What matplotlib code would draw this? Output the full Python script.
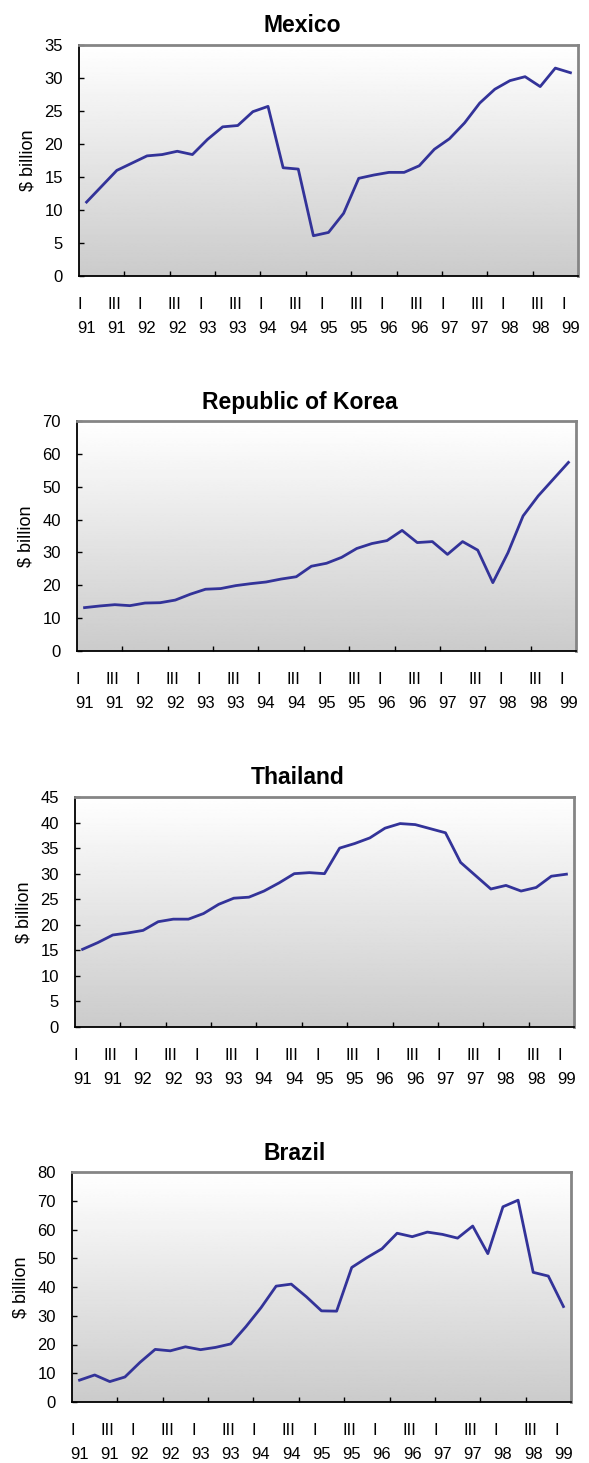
import matplotlib
matplotlib.use("Agg")
import matplotlib.pyplot as plt
import numpy as np

plt.rcParams["font.family"] = ["Liberation Sans", "DejaVu Sans"]

# quarterly data, 91 Q1 .. 99 Q1
quarters = [f"{q} {y}" for y in range(91, 99) for q in ("I", "II", "III", "IV")] + ["I 99"]

mexico = [11.2, 13.6, 16.0, 17.1, 18.2, 18.4, 18.9, 18.4, 20.7, 22.6, 22.8,
          24.9, 25.7, 16.4, 16.2, 6.1, 6.6, 9.5, 14.8, 15.3, 15.7, 15.7,
          16.7, 19.2, 20.8, 23.2, 26.2, 28.3, 29.6, 30.2, 28.7, 31.5, 30.8]
korea = [13.2, 13.7, 14.1, 13.8, 14.6, 14.7, 15.5, 17.3, 18.8, 19.0, 19.9,
         20.5, 21.0, 21.9, 22.6, 25.8, 26.7, 28.5, 31.2, 32.7, 33.6, 36.7,
         33.0, 33.3, 29.4, 33.3, 30.7, 20.8, 29.9, 41.1, 47.2, 52.3, 57.4]
thailand = [15.2, 16.5, 18.0, 18.4, 18.9, 20.6, 21.1, 21.1, 22.2, 24.0, 25.2,
            25.4, 26.6, 28.2, 30.0, 30.2, 30.0, 35.0, 35.9, 37.0, 38.9, 39.8,
            39.6, 38.8, 38.0, 32.2, 29.6, 27.0, 27.7, 26.6, 27.3, 29.5, 29.9]
brazil = [7.6, 9.4, 7.1, 8.7, 13.8, 18.3, 17.8, 19.2, 18.2, 19.0, 20.2,
          26.2, 32.8, 40.3, 41.0, 36.6, 31.7, 31.6, 46.8, 50.2, 53.3, 58.7,
          57.5, 59.1, 58.3, 57.0, 61.2, 51.6, 67.9, 70.2, 45.1, 43.8, 33.2]

titles = ["Mexico", "Republic of Korea", "Thailand", "Brazil"]
series = [mexico, korea, thailand, brazil]
y_max = [35, 70, 45, 80]
y_step = [5, 10, 5, 10]

W, H = 589, 1463
fig = plt.figure(figsize=(W / 100, H / 100), dpi=100)

# axes boxes in pixels: left, right, top, bottom
boxes = [(79, 578, 45, 276), (77, 576, 421, 651),
         (75, 574, 797, 1027), (72, 571, 1172, 1402)]

grad = np.linspace(0, 1, 256).reshape(-1, 1)
n = len(quarters)
x = np.arange(n)

for title, vals, ym, ys, (l, r, t, b) in zip(titles, series, y_max, y_step, boxes):
    ax = fig.add_axes([l / W, 1 - b / H, (r - l) / W, (b - t) / H])
    ax.imshow(grad, extent=[0, 1, 0, 1], transform=ax.transAxes, aspect="auto",
              cmap="gray", vmin=-3.9, vmax=1.0, origin="lower", zorder=0)
    ax.plot(x, vals, color="#333399", lw=2, zorder=3)
    ax.set_xlim(-0.5, n - 0.5)
    ax.set_ylim(0, ym)
    ax.set_yticks(np.arange(0, ym + 1, ys))
    ax.tick_params(axis="y", direction="in", length=3.6, width=1, labelsize=12, pad=11.5)

    # tick marks between groups of 3 quarters, labels every 2nd quarter
    ax.set_xticks(np.arange(2.5, n - 1, 3))
    ax.set_xticklabels([])
    ax.tick_params(axis="x", which="major", direction="in", length=3.6, width=1)
    ax.set_xticks(x[::2], minor=True)
    labs = [q.replace(" ", "\n") for q in quarters[::2]]
    ax.set_xticklabels(labs, minor=True, fontsize=12, linespacing=1.8,
                       multialignment="left")
    ax.tick_params(axis="x", which="minor", length=0, pad=15)

    for s in ("left", "bottom"):
        ax.spines[s].set_color("black")
        ax.spines[s].set_linewidth(1.3)
    for s in ("top", "right"):
        ax.spines[s].set_color("#858585")
        ax.spines[s].set_linewidth(2)

    ax.set_ylabel("$ billion", fontsize=13, labelpad=6)
    ax.set_title(title, fontsize=16.5, fontweight="bold", pad=9, x=0.447)

fig.savefig("out.png", dpi=100)
